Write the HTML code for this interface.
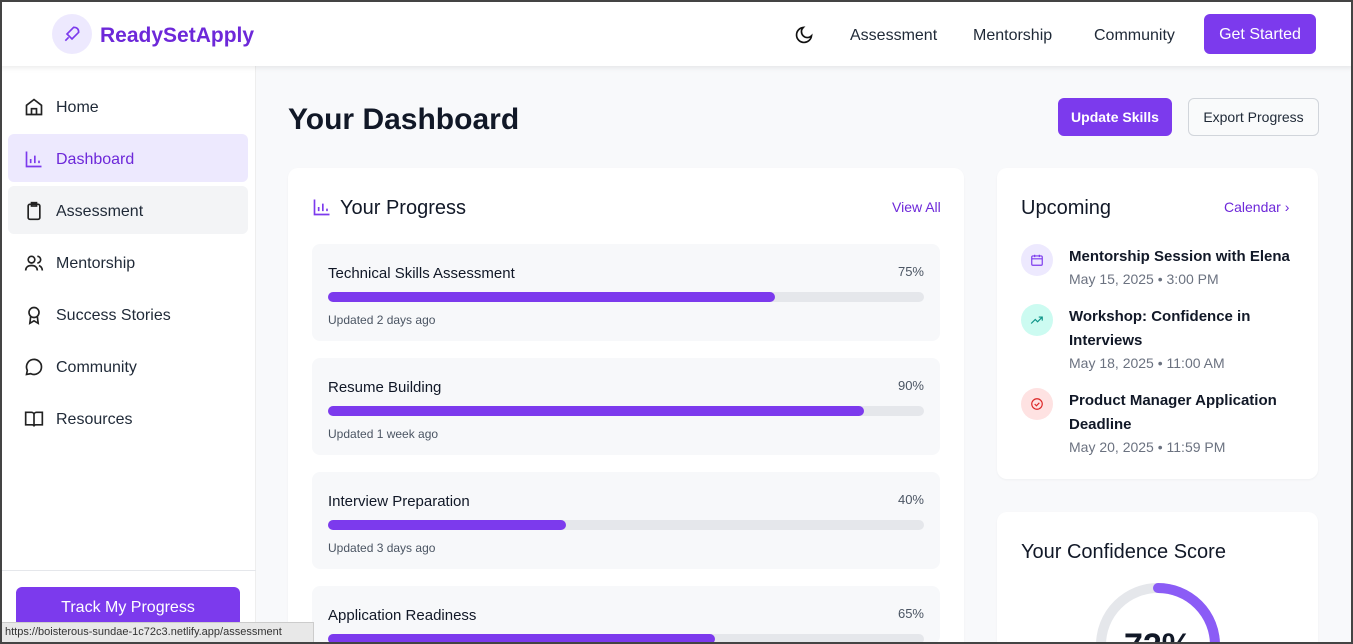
<!DOCTYPE html>
<html style="width:1353px;height:644px;overflow:hidden"><head><meta charset="utf-8"><style>
*{box-sizing:border-box;margin:0;padding:0}
body{width:1353px;height:644px;overflow:hidden;font-family:"Liberation Sans",sans-serif;background:#f8f9fb;position:relative;color:#111827}
.abs{position:absolute}
header{position:absolute;left:0;top:0;width:1353px;height:66px;background:#fff;box-shadow:0 2px 5px rgba(0,0,0,.08);z-index:2}
.side{position:absolute;left:0;top:66px;width:256px;height:578px;background:#fff;border-right:1px solid #eee}
.nav{position:absolute;left:8px;width:240px;height:48px;border-radius:6px;font-size:16px;color:#1f2937;display:flex;align-items:center;padding-left:48px;padding-top:3px}
.nav svg{position:absolute;left:16px;top:15px}
.card{position:absolute;background:#fff;border-radius:10px 10px 0 0;box-shadow:0 1px 2px rgba(0,0,0,.04);overflow:hidden}
.item{position:absolute;left:24px;width:628px;height:97px;background:#f7f8fa;border-radius:8px}
.item .t{position:absolute;left:16px;top:21px;font-size:15px;color:#111827}
.item .p{position:absolute;right:16px;top:20px;font-size:13px;color:#4b5563}
.item .bar{position:absolute;left:16px;top:48px;width:596px;height:10px;background:#e5e7eb;border-radius:5px}
.item .fill{height:10px;background:#7c3aed;border-radius:5px}
.item .u{position:absolute;left:16px;top:69px;font-size:12px;color:#4b5563}
.ev{position:absolute;left:72px;font-size:15px;color:#111827;line-height:24px;font-weight:bold}
.ed{position:absolute;left:72px;font-size:14px;color:#6b7280}
.ic{position:absolute;left:24px;width:32px;height:32px;border-radius:50%;display:flex;align-items:center;justify-content:center}
</style></head><body>
<header>
 <div class="abs" style="left:52px;top:14px;width:40px;height:40px;border-radius:50%;background:#ede9fe;display:flex;align-items:center;justify-content:center">
  <svg width="20" height="20" viewBox="0 0 24 24" fill="none" stroke="#7c3aed" stroke-width="2"><path d="M4 20l4-4M14 4c4 0 6 2 6 6l-8 8-6-6z"/></svg></div>
 <div class="abs" style="left:100px;top:24px;font-size:21px;font-weight:bold;color:#6d28d9">ReadySetApply</div>
 <div class="abs" style="left:794px;top:25px"><svg width="20" height="20" viewBox="0 0 24 24" fill="none" stroke="#111" stroke-width="2"><path d="M21 13A9 9 0 1 1 11 3a7 7 0 0 0 10 10z"/></svg></div>
 <div class="abs" style="left:850px;top:27px;font-size:16px;color:#1f2937">Assessment</div>
 <div class="abs" style="left:973px;top:27px;font-size:16px;color:#1f2937">Mentorship</div>
 <div class="abs" style="left:1094px;top:27px;font-size:16px;color:#1f2937">Community</div>
 <div class="abs" style="left:1204px;top:14px;width:112px;height:40px;background:#7c3aed;border-radius:6px;color:#fff;font-size:16px;display:flex;align-items:center;justify-content:center;padding-top:2px">Get Started</div>
</header>
<div class="side">
 <div class="nav" style="top:16px"><svg width="20" height="20" viewBox="0 0 24 24" fill="none" stroke="#222" stroke-width="2"><path d="M3 10l9-7 9 7v11H3z M9 21v-7h6v7"/></svg>Home</div>
 <div class="nav" style="top:68px;background:#ede9fe;color:#6d28d9"><svg width="20" height="20" viewBox="0 0 24 24" fill="none" stroke="#7c3aed" stroke-width="2"><path d="M3 3v18h18M8 17v-5M13 17V8M18 17v-3"/></svg>Dashboard</div>
 <div class="nav" style="top:120px;background:#f3f4f6"><svg width="20" height="20" viewBox="0 0 24 24" fill="none" stroke="#222" stroke-width="2"><rect x="5" y="4" width="14" height="18" rx="2"/><rect x="9" y="2" width="6" height="4"/></svg>Assessment</div>
 <div class="nav" style="top:172px"><svg width="20" height="20" viewBox="0 0 24 24" fill="none" stroke="#222" stroke-width="2"><circle cx="9" cy="8" r="4"/><path d="M2 21c0-4 3-6 7-6s7 2 7 6M16 4a4 4 0 0 1 0 8M22 21c0-3-2-5-4-6"/></svg>Mentorship</div>
 <div class="nav" style="top:224px"><svg width="20" height="20" viewBox="0 0 24 24" fill="none" stroke="#222" stroke-width="2"><circle cx="12" cy="9" r="6"/><path d="M8 14l-1 8 5-3 5 3-1-8"/></svg>Success Stories</div>
 <div class="nav" style="top:276px"><svg width="20" height="20" viewBox="0 0 24 24" fill="none" stroke="#222" stroke-width="2"><path d="M21 12a9 9 0 0 1-13 8l-5 1 1-5A9 9 0 1 1 21 12z"/></svg>Community</div>
 <div class="nav" style="top:328px"><svg width="20" height="20" viewBox="0 0 24 24" fill="none" stroke="#222" stroke-width="2"><path d="M2 4h7a3 3 0 0 1 3 3v14a2 2 0 0 0-2-2H2zM22 4h-7a3 3 0 0 0-3 3v14a2 2 0 0 1 2-2h8z"/></svg>Resources</div>
 <div class="abs" style="left:0;top:504px;width:256px;height:1px;background:#e5e7eb"></div>
 <div class="abs" style="left:16px;top:521px;width:224px;height:40px;background:#7c3aed;border-radius:6px;color:#fff;font-size:16px;display:flex;align-items:center;justify-content:center;padding-top:2px">Track My Progress</div>
</div>
<div class="abs" style="left:288px;top:103px;font-size:30px;font-weight:bold;color:#111827">Your Dashboard</div>
<div class="abs" style="left:1058px;top:98px;width:114px;height:38px;background:#7c3aed;border-radius:6px;color:#fff;font-size:14px;font-weight:bold;display:flex;align-items:center;justify-content:center">Update Skills</div>
<div class="abs" style="left:1188px;top:98px;width:131px;height:38px;background:#f9fafb;border:1px solid #d1d5db;border-radius:6px;color:#1f2937;font-size:14px;display:flex;align-items:center;justify-content:center">Export Progress</div>
<div class="card" id="prog" style="left:288px;top:168px;width:676px;height:476px">
 <svg class="abs" style="left:24px;top:29px" width="20" height="20" viewBox="0 0 24 24" fill="none" stroke="#7c3aed" stroke-width="2"><path d="M3 3v18h18M8 17v-5M13 17V8M18 17v-3"/></svg>
 <div class="abs" style="left:52px;top:29px;font-size:20px;color:#111827">Your Progress</div>
 <div class="abs" style="left:604px;top:31px;font-size:14px;color:#6d28d9">View All</div>
</div>
<div class="card" style="left:997px;top:168px;width:321px;height:311px;border-radius:10px">
 <div class="abs" style="left:24px;top:29px;font-size:20px">Upcoming</div>
 <div class="abs" style="left:227px;top:31px;font-size:14px;color:#6d28d9">Calendar ›</div>
 <div class="ic" style="top:76px;background:#ede9fe"><svg width="14" height="14" viewBox="0 0 24 24" fill="none" stroke="#7c3aed" stroke-width="2"><rect x="3" y="5" width="18" height="16" rx="2"/><path d="M3 10h18M8 3v4M16 3v4"/></svg></div>
 <div class="ev" style="top:77px">Mentorship Session with Elena</div>
 <div class="ed" style="top:103px">May 15, 2025 • 3:00 PM</div>
 <div class="ic" style="top:136px;background:#ccfbf1"><svg width="14" height="14" viewBox="0 0 24 24" fill="none" stroke="#0d9488" stroke-width="2"><path d="M2 18l7-7 4 4 8-8M15 7h6v6"/></svg></div>
 <div class="ev" style="top:137px">Workshop: Confidence in<br>Interviews</div>
 <div class="ed" style="top:187px">May 18, 2025 • 11:00 AM</div>
 <div class="ic" style="top:220px;background:#fee2e2"><svg width="14" height="14" viewBox="0 0 24 24" fill="none" stroke="#dc2626" stroke-width="2"><circle cx="12" cy="12" r="9"/><path d="M8 12l3 3 5-5"/></svg></div>
 <div class="ev" style="top:221px">Product Manager Application<br>Deadline</div>
 <div class="ed" style="top:271px">May 20, 2025 • 11:59 PM</div>
</div>
<div class="card" style="left:997px;top:512px;width:321px;height:132px">
 <div class="abs" style="left:24px;top:29px;font-size:20px">Your Confidence Score</div>
 <svg class="abs" style="left:91px;top:63px" width="140" height="140" viewBox="0 0 140 140">
  <circle cx="70" cy="70" r="57" fill="none" stroke="#e5e7eb" stroke-width="10"/>
  <circle id="gauge" cx="70" cy="70" r="57" fill="none" stroke="#8b5cf6" stroke-width="10" stroke-linecap="round" transform="rotate(-90 70 70)"/>
  <text x="70" y="82" text-anchor="middle" font-size="34" font-weight="bold" fill="#111827" font-family="Liberation Sans">72%</text>
 </svg>
</div>
<div class="abs" style="left:0;top:622px;width:314px;height:22px;background:#e8e8e8;border:1px solid #ccc;font-size:11px;color:#333;padding:3px 4px;z-index:3">https://boisterous-sundae-1c72c3.netlify.app/assessment</div>
<div class="abs" style="left:0;top:0;width:1353px;height:644px;border:2px solid #444;z-index:5;pointer-events:none"></div>
<script>
const skills=["Technical Skills Assessment","Resume Building","Interview Preparation","Application Readiness"];
const percents=[75,90,40,65];
const updated=["Updated 2 days ago","Updated 1 week ago","Updated 3 days ago",""];
const confidence=72;
const card=document.getElementById('prog');
skills.forEach((s,i)=>{
 const d=document.createElement('div');
 d.className='item';
 d.style.top=(76+i*114)+'px';
 d.style.height=Math.min(97,476-(76+i*114))+'px';
 d.style.overflow='hidden';
 
 
 d.innerHTML='<div class="t">'+s+'</div><div class="p">'+percents[i]+'%</div><div class="bar"><div class="fill" style="width:'+percents[i]+'%"></div></div><div class="u">'+updated[i]+'</div>';
 card.appendChild(d);
});
const g=document.getElementById('gauge');
const C=2*Math.PI*57;
g.setAttribute('stroke-dasharray',(C*confidence/100)+' '+C);
</script>
</body></html>
